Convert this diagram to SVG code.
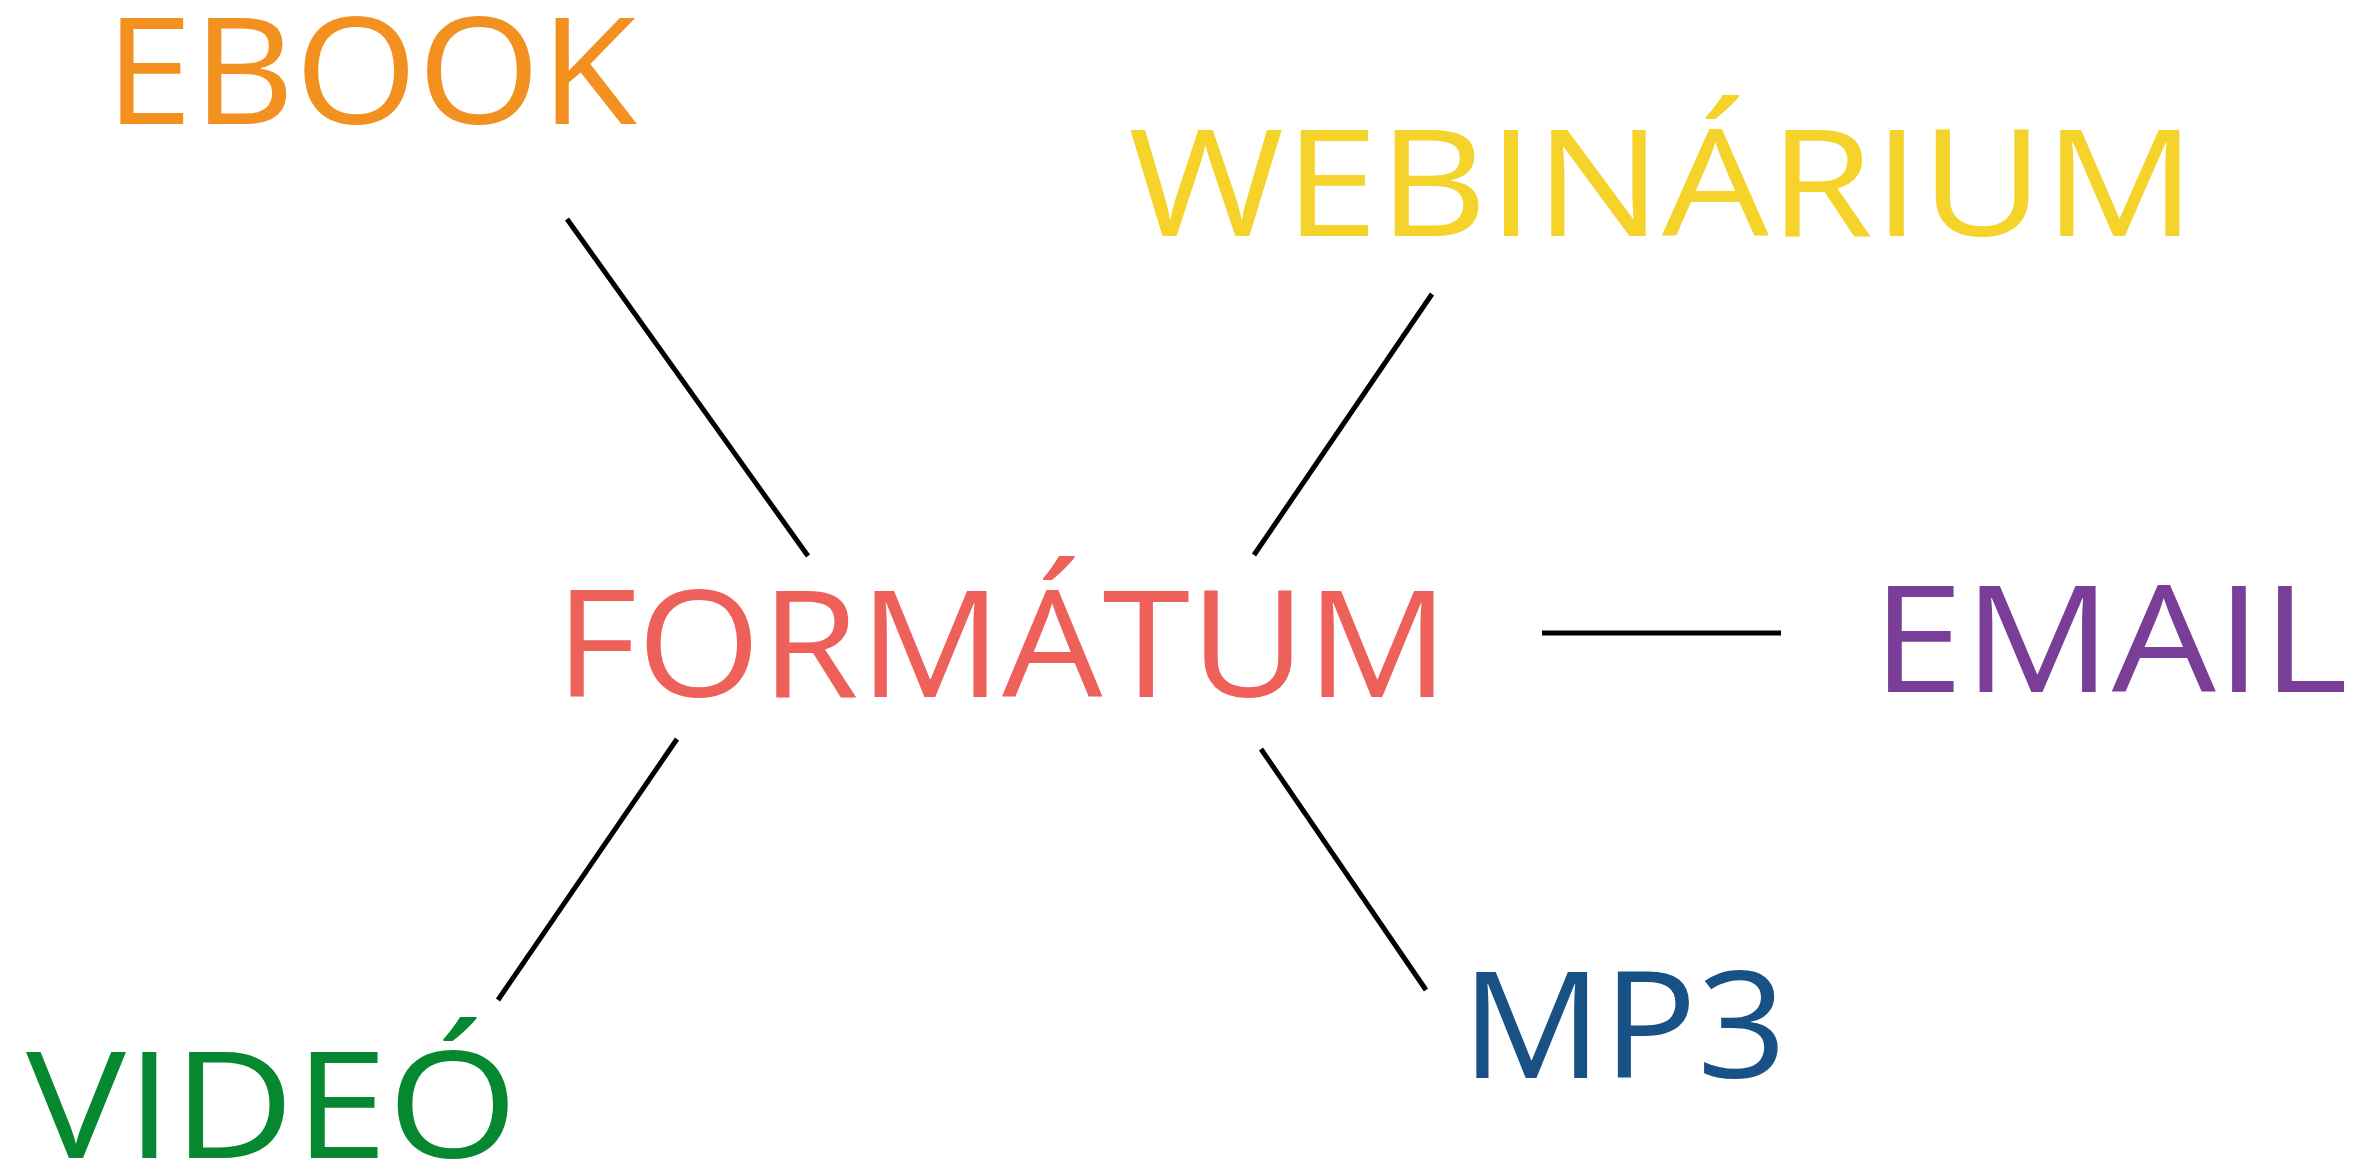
<svg xmlns="http://www.w3.org/2000/svg" width="2378" height="1165" viewBox="0 0 2378 1165">
<style>
text{font-family:"Open Sans","Noto Sans","Liberation Sans",sans-serif;font-size:148px;font-weight:400;}
.ln{stroke:#000;stroke-width:5;fill:none;}
</style>
<rect width="2378" height="1165" fill="#fff"/>
<g id="connectors">
<line class="ln" x1="567" y1="219" x2="808" y2="556"/>
<line class="ln" x1="1432" y1="294" x2="1254" y2="555"/>
<line class="ln" x1="1542" y1="633" x2="1781" y2="633"/>
<line class="ln" x1="1261" y1="749" x2="1426" y2="990"/>
<line class="ln" x1="677" y1="739" x2="498" y2="1000"/>
</g>
<g id="node-ebook"><text x="105" y="124" fill="#F29120" textLength="532" lengthAdjust="spacingAndGlyphs">EBOOK</text></g>
<g id="node-webinarium"><text x="1128" y="236" fill="#F5D32A" textLength="1068" lengthAdjust="spacingAndGlyphs">WEBINÁRIUM</text></g>
<g id="node-formatum"><text x="555" y="697" fill="#EE605A" textLength="894" lengthAdjust="spacingAndGlyphs">FORMÁTUM</text></g>
<g id="node-email"><text x="1872" y="692" fill="#7A3E98" textLength="476" lengthAdjust="spacingAndGlyphs">EMAIL</text></g>
<g id="node-mp3"><text x="1461" y="1078" fill="#185186" textLength="326" lengthAdjust="spacingAndGlyphs">MP3</text></g>
<g id="node-video"><text x="26" y="1158" fill="#05882F" textLength="492" lengthAdjust="spacingAndGlyphs">VIDEÓ</text></g>
</svg>
